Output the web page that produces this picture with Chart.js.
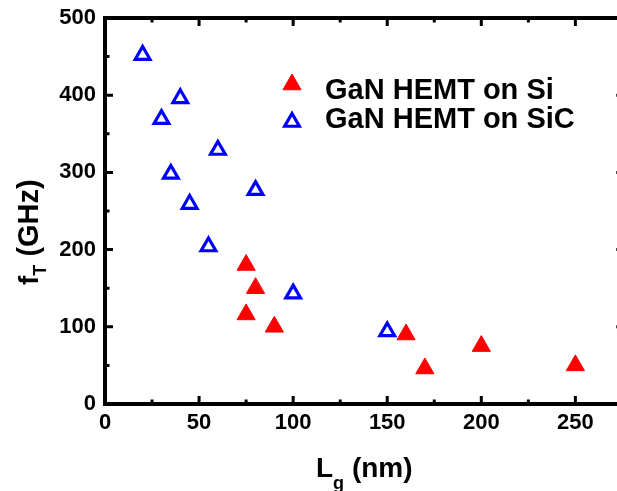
<!DOCTYPE html>
<html>
<head>
<meta charset="utf-8">
<script src="https://cdn.jsdelivr.net/npm/chart.js@4.4.1/dist/chart.umd.min.js"></script>
<style>
  html, body { margin: 0; padding: 0; background: #fff; overflow: hidden; }
  #wrap { position: relative; width: 617px; height: 491px; overflow: hidden; }
</style>
</head>
<body>
<div id="wrap"><canvas id="ftChart" width="636" height="491"></canvas></div>
<script>
// gate length (nm) vs cut-off frequency (GHz)
const siLg = [75, 80, 75, 90, 160, 170, 200, 250];
const siFt = [180, 150, 116, 100, 90, 46, 75, 50];
const sicLg = [20, 30, 35, 40, 45, 55, 60, 80, 100, 150];
const sicFt = [452, 369, 298, 396, 259, 204, 329, 277, 143, 94];
const xTicks = [0, 50, 100, 150, 200, 250];
const yTicks = [0, 100, 200, 300, 400, 500];
const seriesNames = ['GaN HEMT on Si', 'GaN HEMT on SiC'];

const FONT = "'Liberation Sans', Arial, sans-serif";

const siStyle = { pointStyle: 'triangle', radius: 10.5, borderWidth: 1, fill: '#ff0000', stroke: '#ff0000' };
const sicStyle = { pointStyle: 'triangle', radius: 8.5, borderWidth: 3.2, fill: 'rgba(0,0,0,0)', stroke: '#0000ff' };

// frame, inward ticks, axis titles and legend
const framePlugin = {
    id: 'frame',
    afterDraw(chart) {
        const ctx = chart.ctx;
        const a = chart.chartArea;
        const xs = chart.scales.x;
        const ys = chart.scales.y;
        ctx.save();
        ctx.strokeStyle = '#000';
        ctx.lineWidth = 4;
        ctx.lineCap = 'butt';
        ctx.strokeRect(a.left, a.top, a.right - a.left, a.bottom - a.top);

        ctx.lineWidth = 3;
        for (let v = 0; v <= 275; v += 25) {
            const px = xs.getPixelForValue(v);
            if (px > a.right) break;
            const len = v % 50 === 0 ? 8 : 4.5;
            ctx.beginPath();
            ctx.moveTo(px, a.bottom); ctx.lineTo(px, a.bottom - len);
            ctx.moveTo(px, a.top); ctx.lineTo(px, a.top + len);
            ctx.stroke();
        }
        for (let v = 0; v <= 500; v += 50) {
            const py = ys.getPixelForValue(v);
            const len = v % 100 === 0 ? 8 : 4.5;
            ctx.beginPath();
            ctx.moveTo(a.left, py); ctx.lineTo(a.left + len, py);
            ctx.moveTo(a.right, py); ctx.lineTo(a.right - len, py);
            ctx.stroke();
        }

        // x title: L_g (nm)
        ctx.fillStyle = '#000';
        ctx.textBaseline = 'alphabetic';
        ctx.textAlign = 'left';
        let x = 316;
        ctx.font = 'bold 28px ' + FONT;
        ctx.fillText('L', x, 477);
        x += ctx.measureText('L').width;
        ctx.font = 'bold 18px ' + FONT;
        ctx.fillText('g', x, 489);
        x += ctx.measureText('g').width;
        ctx.font = 'bold 28px ' + FONT;
        ctx.fillText(' (nm)', x, 477);

        // y title: f_T (GHz)
        ctx.save();
        ctx.translate(38, 285);
        ctx.rotate(-Math.PI / 2);
        let y = 0;
        ctx.font = 'bold 28px ' + FONT;
        ctx.fillText('f', y, 0);
        y += ctx.measureText('f').width;
        ctx.font = 'bold 18px ' + FONT;
        ctx.fillText('T', y, 8);
        y += ctx.measureText('T').width;
        ctx.font = 'bold 29px ' + FONT;
        ctx.fillText(' (GHz)', y, 0);
        ctx.restore();

        // legend
        const rows = [[siStyle, 84.5, 98.5], [sicStyle, 122, 128]];
        rows.forEach(([st, my, by], i) => {
            ctx.fillStyle = st.fill;
            ctx.strokeStyle = st.stroke;
            ctx.lineWidth = st.borderWidth;
            Chart.helpers.drawPoint(ctx, { pointStyle: st.pointStyle, radius: st.radius, borderWidth: st.borderWidth, rotation: 0 }, 292, my);
            ctx.fillStyle = '#000';
            ctx.font = 'bold 29px ' + FONT;
            ctx.fillText(seriesNames[i], 325, by);
        });
        ctx.restore();
    }
};

const tickFont = { family: FONT, size: 22, weight: 'bold' };

new Chart(document.getElementById('ftChart').getContext('2d'), {
    type: 'scatter',
    data: {
        datasets: [
            {
                label: seriesNames[0],
                data: siLg.map((v, i) => ({ x: v, y: siFt[i] })),
                pointStyle: siStyle.pointStyle,
                pointRadius: siStyle.radius,
                pointHoverRadius: siStyle.radius,
                borderWidth: siStyle.borderWidth,
                backgroundColor: siStyle.fill,
                borderColor: siStyle.stroke
            },
            {
                label: seriesNames[1],
                data: sicLg.map((v, i) => ({ x: v, y: sicFt[i] })),
                pointStyle: sicStyle.pointStyle,
                pointRadius: sicStyle.radius,
                pointHoverRadius: sicStyle.radius,
                borderWidth: sicStyle.borderWidth,
                backgroundColor: sicStyle.fill,
                borderColor: sicStyle.stroke
            }
        ]
    },
    options: {
        responsive: false,
        animation: false,
        events: [],
        layout: { padding: { top: 18, right: 9, left: 0, bottom: 0 } },
        plugins: {
            legend: { display: false },
            tooltip: { enabled: false }
        },
        scales: {
            x: {
                type: 'linear',
                min: 0,
                max: 276,
                afterFit(scale) { scale.height = 87; scale.paddingLeft = 0; scale.paddingRight = 0; },
                afterBuildTicks(scale) { scale.ticks = xTicks.map(v => ({ value: v })); },
                grid: { display: false, drawTicks: false },
                border: { display: false },
                ticks: { color: '#000', font: tickFont, padding: 6, maxRotation: 0, autoSkip: false }
            },
            y: {
                type: 'linear',
                min: 0,
                max: 500,
                afterFit(scale) { scale.width = 105; scale.paddingTop = 0; scale.paddingBottom = 0; },
                afterBuildTicks(scale) { scale.ticks = yTicks.map(v => ({ value: v })); },
                grid: { display: false, drawTicks: false },
                border: { display: false },
                ticks: { color: '#000', font: tickFont, padding: 9, autoSkip: false }
            }
        }
    },
    plugins: [framePlugin]
});
</script>
</body>
</html>
